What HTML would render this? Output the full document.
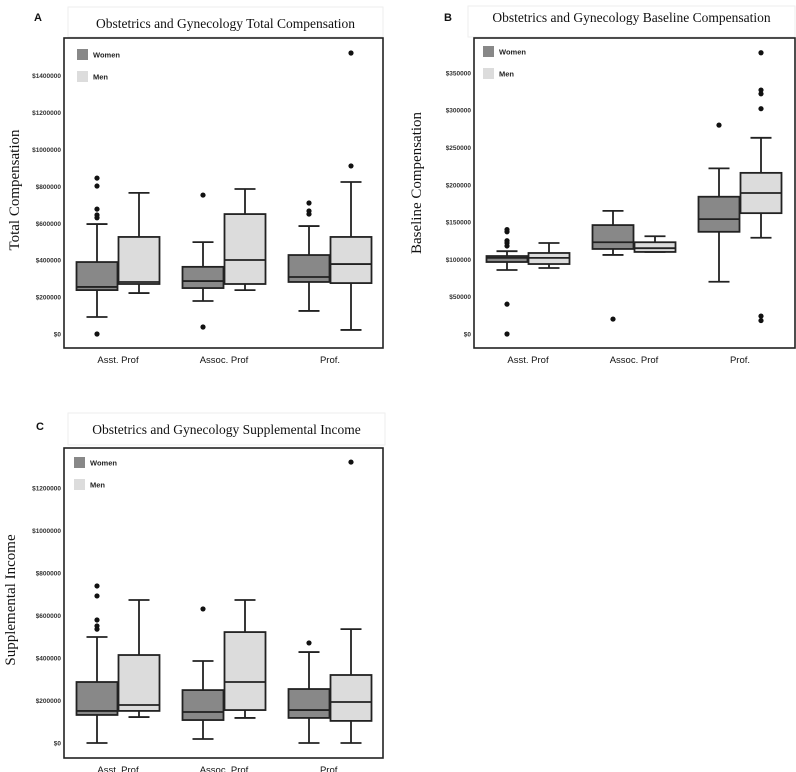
<!DOCTYPE html>
<html><head><meta charset="utf-8"><style>
html,body{margin:0;padding:0;background:#fff;}
svg{display:block;}
</style></head><body>
<svg id="chart" width="796" height="772" xmlns="http://www.w3.org/2000/svg"></svg>
<script>
const categories = ["Asst. Prof", "Assoc. Prof", "Prof."];
const groups = ["Women", "Men"];
// each box: [low whisker, Q1, median, Q3, high whisker]
const totalWomen = [[92000,238000,255000,390000,596000],[179000,249000,287000,364000,498000],[125000,282000,309000,428000,585000]];
const totalMen = [[222000,271000,282000,526000,765000],[238000,271000,401000,650000,786000],[22000,276000,379000,526000,824000]];
const totalWomenOut = [[845000,802000,677000,645000,630000,0],[753000,38000],[710000,667000,650000]];
const totalMenOut = [[],[],[1523000,911000]];
const totalTicks = [0,200000,400000,600000,800000,1000000,1200000,1400000];

const baseWomen = [[85800,96500,102000,104500,111000],[106000,114000,123000,146000,165000],[70000,137000,154000,184000,222000]];
const baseMen = [[88500,93800,102000,108600,122000],[110000,110000,115000,123000,131000],[129000,162000,189000,216000,263000]];
const baseWomenOut = [[140000,137000,125000,122000,118000,40000,0],[20000],[280000]];
const baseMenOut = [[],[],[377000,327000,322000,302000,24000,18000]];
const baseTicks = [0,50000,100000,150000,200000,250000,300000,350000];

const suppWomen = [[0,132000,151000,287000,499000],[19000,108000,146000,249000,386000],[0,118000,155000,254000,428000]];
const suppMen = [[122000,151000,179000,414000,673000],[118000,155000,287000,522000,673000],[0,104000,193000,320000,536000]];
const suppWomenOut = [[739000,692000,579000,551000,536000],[631000],[471000]];
const suppMenOut = [[],[],[1322000]];
const suppTicks = [0,200000,400000,600000,800000,1000000,1200000];

const NS = "http://www.w3.org/2000/svg";
const svg = document.getElementById("chart");
function mk(tag, attrs, parent, text){
  const e = document.createElementNS(NS, tag);
  for (const k in attrs) e.setAttribute(k, attrs[k]);
  if (text !== undefined) e.textContent = text;
  (parent||svg).appendChild(e);
  return e;
}
function panel(p){
  const g = mk("g", {});
  
  
  // panel letter
  const L = mk("text", {x:p.letterX, y:p.letterY, "font-family":"Liberation Sans, sans-serif", "font-size":"11", "font-weight":"bold", fill:"#111"}, g, p.letter);
  
  
  // title box
  const tb = mk("rect", {x:p.tbx1, y:p.tby1, width:p.tbx2-p.tbx1, height:p.tby2-p.tby1, fill:"#fff", stroke:"#eee", "stroke-width":"1"}, g);
  
  
  const t = mk("text", {x:(p.tbx1+p.tbx2)/2, y:p.titleY, "text-anchor":"middle", "font-family":"Liberation Serif, serif", "font-size":"13.5", fill:"#111"}, g, p.title);
  
  
  // frame
  const fr = mk("rect", {x:p.x1, y:p.y1, width:p.x2-p.x1, height:p.y2-p.y1, fill:"#fff", stroke:"#222", "stroke-width":"1.6"}, g);
  
  
  const yScale = v => p.y0 - (v - 0) * p.pxPer;
  // ticks
  p.ticks.forEach(v=>{
    const tt = mk("text", {x:p.x1-3, y:yScale(v)+2.5, "text-anchor":"end", "font-family":"Liberation Sans, sans-serif", "font-size":"6.5", "font-weight":"bold", fill:"#333"}, g, "$"+v);
    
    
  });
  // y title
  const yt = mk("text", {x:0, y:0, transform:`translate(${p.ytX},${p.ytY}) rotate(-90)`, "text-anchor":"middle", "font-family":"Liberation Serif, serif", "font-size":"15", fill:"#111"}, g, p.yTitle);
  
  
  // categories
  const xCat = i => p.cx0 + i * p.cStep;
  categories.forEach((c,i)=>{
    const ct = mk("text", {x:xCat(i), y:p.y2+15, "text-anchor":"middle", "font-family":"Liberation Sans, sans-serif", "font-size":"9.5", fill:"#111"}, g, c);
    
    
  });
  const series = [{box:p.women, out:p.womenOut, fill:"#888", off:-21},{box:p.men, out:p.menOut, fill:"#dcdcdc", off:21}];
  series.forEach((s,si)=>{
    s.box.forEach((b,i)=>{
      const cx = xCat(i) + s.off, hw = 20.5, cw = 10.5;
      const bg = mk("g", {}, g);
      
      
      const st = {stroke:"#222", "stroke-width":"1.8", fill:"none"};
      mk("line", Object.assign({x1:cx, x2:cx, y1:yScale(b[0]), y2:yScale(b[1])}, st), bg);
      mk("line", Object.assign({x1:cx, x2:cx, y1:yScale(b[3]), y2:yScale(b[4])}, st), bg);
      mk("line", Object.assign({x1:cx-cw, x2:cx+cw, y1:yScale(b[0]), y2:yScale(b[0])}, st), bg);
      mk("line", Object.assign({x1:cx-cw, x2:cx+cw, y1:yScale(b[4]), y2:yScale(b[4])}, st), bg);
      mk("rect", {x:cx-hw, y:yScale(b[3]), width:hw*2, height:Math.max(0.5,yScale(b[1])-yScale(b[3])), fill:s.fill, stroke:"#222", "stroke-width":"1.8"}, bg);
      mk("line", Object.assign({x1:cx-hw, x2:cx+hw, y1:yScale(b[2]), y2:yScale(b[2])}, st), bg);
      s.out[i].forEach(v=>{
        const c = mk("circle", {cx:cx, cy:yScale(v), r:2.6, fill:"#111"}, g);
        
        
      });
    });
  });
  // legend
  const lg = mk("g", {}, g);
  
  
  [["Women","#888"],["Men","#dcdcdc"]].forEach((e,i)=>{
    const y = p.legY + i*22;
    const r = mk("rect", {x:p.legX, y:y, width:11, height:11, fill:e[1]}, lg);
    
    
    const tx = mk("text", {x:p.legX+16, y:y+8.5, "font-family":"Liberation Sans, sans-serif", "font-size":"7.5", "font-weight":"bold", fill:"#222"}, lg, e[0]);
    
    
  });
}
panel({name:"panel-a-total", letter:"A", letterX:34, letterY:21, tbx1:68, tby1:7, tbx2:383, tby2:37, titleY:28, title:"Obstetrics and Gynecology Total Compensation",
  x1:64, y1:38, x2:383, y2:348, y0:334, pxPer:36.9/200000, ticks:totalTicks, ytX:19, ytY:190, yTitle:"Total Compensation",
  cx0:118, cStep:106, women:totalWomen, men:totalMen, womenOut:totalWomenOut, menOut:totalMenOut, legX:77, legY:49});
panel({name:"panel-b-baseline", letter:"B", letterX:444, letterY:21, tbx1:468, tby1:6, tbx2:795, tby2:37, titleY:22, title:"Obstetrics and Gynecology Baseline Compensation",
  x1:474, y1:38, x2:795, y2:348, y0:334, pxPer:37.3/50000, ticks:baseTicks, ytX:421, ytY:183, yTitle:"Baseline Compensation",
  cx0:528, cStep:106, women:baseWomen, men:baseMen, womenOut:baseWomenOut, menOut:baseMenOut, legX:483, legY:46});
panel({name:"panel-c-supplemental", letter:"C", letterX:36, letterY:430, tbx1:68, tby1:413, tbx2:385, tby2:445, titleY:434, title:"Obstetrics and Gynecology Supplemental Income",
  x1:64, y1:448, x2:383, y2:758, y0:743, pxPer:42.5/200000, ticks:suppTicks, ytX:15, ytY:600, yTitle:"Supplemental Income",
  cx0:118, cStep:106, women:suppWomen, men:suppMen, womenOut:suppWomenOut, menOut:suppMenOut, legX:74, legY:457});
</script>
</body></html>
